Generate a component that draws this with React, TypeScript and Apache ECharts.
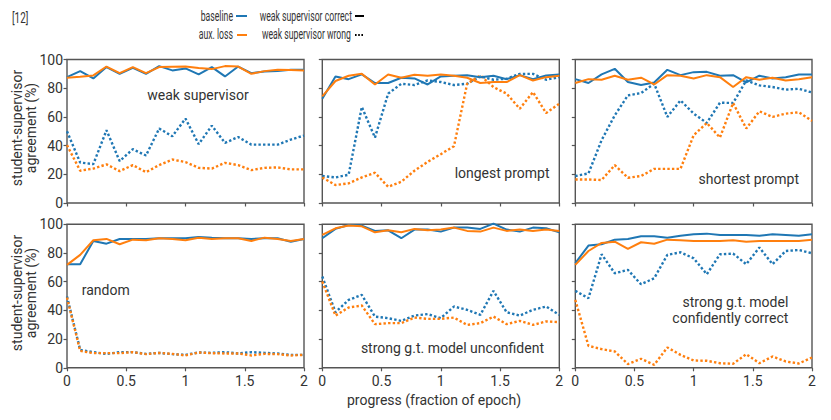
import React, { useEffect, useRef } from "react";
import * as echarts from "echarts";

const X_STEPS = [0, 1 / 9, 2 / 9, 3 / 9, 4 / 9, 5 / 9, 6 / 9, 7 / 9, 8 / 9, 1, 10 / 9, 11 / 9, 12 / 9, 13 / 9, 14 / 9, 15 / 9, 16 / 9, 17 / 9, 2];
const X_TICKS = [0, 0.5, 1, 1.5, 2];
const Y_TICKS = [0, 20, 40, 60, 80, 100];

const PANEL_LABELS = [
  "weak supervisor",
  "longest prompt",
  "shortest prompt",
  "random",
  "strong g.t. model unconfident",
  "strong g.t. model\nconfidently correct",
];

// panel 1: weak supervisor
const WEAK_BASE_CORRECT = [87.7, 91.9, 86.8, 94.7, 90, 94.2, 90, 95.4, 92.4, 93.8, 89.6, 94.7, 88.2, 95.1, 90.5, 91.7, 91.9, 92.8, 92.8];
const WEAK_AUX_CORRECT = [87.3, 88, 88.9, 95.1, 90.5, 94.7, 90.5, 94.7, 94.9, 95.1, 94, 93.3, 95.4, 95.1, 90, 91.9, 92.8, 92.6, 92.4];
const WEAK_BASE_WRONG = [50, 28.2, 27.1, 50.7, 29.2, 37.5, 33.1, 51.9, 46.5, 58.8, 41, 53.9, 41.9, 46, 40.7, 40.7, 40.7, 44.2, 47];
const WEAK_AUX_WRONG = [40.3, 22.5, 24, 26.9, 22.2, 26.4, 21.5, 26.4, 30.3, 28.5, 24.5, 24, 28, 26.4, 22.9, 24.5, 24.8, 23.4, 23.4];

// panel 2: longest prompt
const LONG_BASE_CORRECT = [72.7, 88.2, 86.3, 89.6, 83.6, 83.6, 87.3, 86.8, 82.6, 88.2, 88.7, 89.1, 87.7, 88.7, 86.3, 89.1, 86.3, 88.9, 89.6];
const LONG_AUX_CORRECT = [74.3, 85, 88.7, 90, 82.6, 89.6, 87.3, 89.4, 88.7, 89.6, 88.7, 87.3, 83.6, 84.3, 84.3, 89.1, 85.4, 87.7, 88.7];
const LONG_BASE_WRONG = [18.8, 17.8, 19.7, 66.9, 45.6, 76.2, 83.1, 82.2, 85.4, 84.3, 82.2, 83.1, 88.2, 85.9, 86.6, 90, 90, 85.9, 87.7];
const LONG_AUX_WRONG = [17.8, 12.5, 13.7, 17.8, 21.1, 11.3, 14.8, 22.5, 28.7, 34, 39.6, 83.1, 88.9, 80.8, 76.2, 65.7, 77.3, 62.7, 69.2];

// panel 3: shortest prompt
const SHORT_BASE_CORRECT = [86.3, 83.6, 89.6, 93.5, 84.3, 82.2, 84, 92.8, 89.1, 91.2, 91.4, 88.7, 89.1, 84, 88.7, 86.8, 87.7, 89.6, 89.6];
const SHORT_AUX_CORRECT = [83.6, 86.3, 85.9, 88.7, 85.9, 87.3, 82.6, 89.1, 88.7, 86.8, 89.1, 87.7, 80.8, 87.7, 85.9, 87.3, 85.4, 86.3, 87.7];
const SHORT_BASE_WRONG = [18.8, 20.6, 43.8, 61.1, 75, 76.6, 83.1, 60, 71.5, 62.3, 55.8, 69.9, 69.7, 85.4, 82, 80.8, 79, 79.6, 77];
const SHORT_AUX_WRONG = [16.4, 16.4, 16, 26.4, 17.6, 18.8, 23.8, 23.8, 23.8, 47.2, 55.8, 45.6, 69.7, 51.9, 63.9, 60, 62.3, 63.2, 57.2];

// panel 4: random
const RAND_BASE_CORRECT = [72.2, 72.2, 88.4, 86.5, 89.8, 89.8, 89.8, 90.3, 90.3, 90.3, 91.2, 90.7, 90.3, 90.3, 89.8, 90.3, 90.3, 87.9, 89.8];
const RAND_AUX_CORRECT = [71.7, 78.7, 88.9, 89.8, 86.1, 89.3, 88.9, 90.3, 89.8, 88.9, 90.7, 89.8, 90.3, 90.3, 88.4, 90.7, 89.8, 88.4, 89.8];
const RAND_BASE_WRONG = [49.7, 12.5, 10.9, 9.7, 10.9, 10.9, 9.7, 10.4, 9.5, 9, 10.7, 10.4, 10.9, 10, 10.9, 10.4, 10, 9, 9];
const RAND_AUX_WRONG = [49, 11.8, 10.2, 10.2, 10.2, 10.9, 9.5, 10.4, 9.7, 8.6, 10.7, 10.2, 10, 10, 8.6, 9.7, 9.5, 8.6, 9];

// panel 5: strong g.t. model unconfident
const UNCONF_BASE_CORRECT = [90.3, 96.8, 99.5, 99.1, 95.4, 95.8, 90.3, 96.3, 96.3, 94.9, 97.7, 97.7, 96.8, 100.5, 96.3, 94.9, 97.7, 97.2, 94.4];
const UNCONF_AUX_CORRECT = [92.6, 97.2, 99.1, 98.6, 94.4, 95.8, 94.4, 96.8, 95.8, 96.3, 97.7, 95.4, 94.9, 97.7, 95.4, 96.3, 95.4, 96.3, 95.4];
const UNCONF_BASE_WRONG = [63.6, 38.7, 47.3, 50.8, 35.7, 34.6, 32.7, 36.4, 37.4, 34.6, 42.7, 40.4, 36.9, 53.6, 38.7, 36.4, 40.4, 42.7, 36.9];
const UNCONF_AUX_WRONG = [60.1, 36.4, 42, 43.4, 30.4, 31.1, 31.1, 35, 34.1, 34.1, 35, 29.9, 31.1, 35.7, 30.4, 32.7, 29.9, 32.3, 31.8];

// panel 6: strong g.t. model confidently correct
const CONF_BASE_CORRECT = [72.9, 85.2, 86.1, 89.3, 89.8, 91.6, 91.6, 90.7, 92.1, 93, 93.5, 92.6, 92.6, 92.6, 92.1, 93, 92.6, 92.1, 93];
const CONF_AUX_CORRECT = [71.7, 81.4, 87, 87.9, 82.8, 87.5, 86.5, 89.3, 88.9, 88.4, 88.4, 88.4, 88.9, 87.9, 88.4, 88.4, 88.4, 88.4, 89.3];
const CONF_BASE_WRONG = [53.6, 48.5, 79.1, 65.9, 68.2, 58.2, 62.4, 78.7, 80.5, 76.3, 65.2, 79.1, 79.6, 72.2, 83.8, 72.2, 81.4, 82.1, 79.8];
const CONF_AUX_WRONG = [47.3, 15.3, 13, 11.4, 2.6, 6.3, 2.1, 14.2, 9, 5.1, 4.9, 3.2, 2.8, 9.5, 3.2, 7.9, 4.4, 3, 7.2];

const PANELS = [
  [WEAK_BASE_CORRECT, WEAK_AUX_CORRECT, WEAK_BASE_WRONG, WEAK_AUX_WRONG],
  [LONG_BASE_CORRECT, LONG_AUX_CORRECT, LONG_BASE_WRONG, LONG_AUX_WRONG],
  [SHORT_BASE_CORRECT, SHORT_AUX_CORRECT, SHORT_BASE_WRONG, SHORT_AUX_WRONG],
  [RAND_BASE_CORRECT, RAND_AUX_CORRECT, RAND_BASE_WRONG, RAND_AUX_WRONG],
  [UNCONF_BASE_CORRECT, UNCONF_AUX_CORRECT, UNCONF_BASE_WRONG, UNCONF_AUX_WRONG],
  [CONF_BASE_CORRECT, CONF_AUX_CORRECT, CONF_BASE_WRONG, CONF_AUX_WRONG],
];

const LEGEND_ITEMS = ["baseline", "aux. loss", "weak supervisor correct", "weak supervisor wrong"];

const BLUE = "#1f77b4";
const ORANGE = "#ff7f0e";
const TEXT = "#333333";
const FRAME = "#555555";
const FONT = "Roboto, 'Noto Sans', sans-serif";

const COL_LEFT = [67, 322.3, 575.3];
const COL_WIDTH = [237, 237, 236.7];
const ROW_TOP = [59.5, 224.3];
const ROW_HEIGHT = 143.5;

// label placement per panel: [x, y, align]
const LABEL_POS: [number, number, string][] = [
  [198, 95, "center"],
  [549.5, 172.7, "right"],
  [799, 179.3, "right"],
  [81.7, 290, "left"],
  [544, 348.3, "right"],
  [788.3, 309.5, "right"],
];

export default function App() {
  const ref = useRef<HTMLDivElement>(null);
  useEffect(() => {
    if (!ref.current) return;
    const chart = echarts.init(ref.current, null, { renderer: "svg" });
    const grids: any[] = [];
    const xAxes: any[] = [];
    const yAxes: any[] = [];
    const series: any[] = [];
    for (let i = 0; i < 6; i++) {
      const row = Math.floor(i / 3);
      const col = i % 3;
      grids.push({
        left: COL_LEFT[col],
        top: ROW_TOP[row],
        width: COL_WIDTH[col],
        height: ROW_HEIGHT,
        show: true,
        borderColor: FRAME,
        borderWidth: 1.4,
        backgroundColor: "transparent",
      });
      xAxes.push({
        type: "value",
        gridIndex: i,
        min: X_TICKS[0],
        max: X_TICKS[X_TICKS.length - 1],
        interval: 0.5,
        axisLine: { show: false },
        axisTick: { show: true, inside: false, length: 3.5, lineStyle: { color: FRAME, width: 1.2 } },
        splitLine: { show: false },
        axisLabel: {
          show: row === 1,
          fontSize: 14,
          color: TEXT,
          fontFamily: FONT,
          margin: 6,
          showMinLabel: true,
          showMaxLabel: true,
          formatter: (v: number) => String(v),
        },
      });
      yAxes.push({
        type: "value",
        gridIndex: i,
        min: Y_TICKS[0],
        max: Y_TICKS[Y_TICKS.length - 1],
        interval: 20,
        axisLine: { show: false },
        axisTick: { show: true, inside: false, length: 3.5, lineStyle: { color: FRAME, width: 1.2 } },
        splitLine: { show: false },
        axisLabel: {
          show: col === 0,
          fontSize: 14,
          color: TEXT,
          fontFamily: FONT,
          margin: 4,
          showMinLabel: true,
          showMaxLabel: true,
        },
      });
      const [bc, ac, bw, aw] = PANELS[i];
      const mk = (vals: number[], color: string, dotted: boolean, name: string) => ({
        type: "line",
        name,
        xAxisIndex: i,
        yAxisIndex: i,
        data: vals.map((v, k) => [X_STEPS[k], v]),
        showSymbol: false,
        symbol: "none",
        clip: false,
        lineStyle: dotted
          ? { color, width: 2.4, type: [2.4, 2.2], cap: "butt" }
          : { color, width: 2 },
        emphasis: { disabled: true },
      });
      series.push(mk(bw, BLUE, true, "baseline wrong"));
      series.push(mk(aw, ORANGE, true, "aux wrong"));
      series.push(mk(bc, BLUE, false, "baseline correct"));
      series.push(mk(ac, ORANGE, false, "aux correct"));
    }

    const graphic: any[] = [];
    PANEL_LABELS.forEach((txt, i) => {
      const [x, y, align] = LABEL_POS[i];
      graphic.push({
        type: "text",
        x,
        y,
        style: {
          text: txt,
          textAlign: align,
          textVerticalAlign: "middle",
          font: `14px ${FONT}`,
          fill: TEXT,
          lineHeight: 16,
        },
      });
    });
    // y-axis titles
    [128, 293].forEach((cy) => {
      graphic.push({
        type: "text",
        x: 24,
        y: cy,
        rotation: Math.PI / 2,
        style: {
          text: "student-supervisor\nagreement (%)",
          textAlign: "center",
          textVerticalAlign: "middle",
          font: `14px ${FONT}`,
          fill: TEXT,
          lineHeight: 14,
        },
      });
    });
    // x-axis title
    graphic.push({
      type: "text",
      x: 434,
      y: 400,
      style: {
        text: "progress (fraction of epoch)",
        textAlign: "center",
        textVerticalAlign: "middle",
        font: `14px ${FONT}`,
        fill: TEXT,
      },
    });
    // reference tag (condensed face)
    graphic.push({
      type: "text",
      x: 12,
      y: 18,
      scaleX: 0.66,
      style: { text: "[12]", textAlign: "left", textVerticalAlign: "middle", font: `15px ${FONT}`, fill: TEXT },
    });
    // legend (condensed face)
    const legendText = (text: string, x: number, y: number) => ({
      type: "text",
      x,
      y,
      scaleX: 0.6,
      style: { text, textAlign: "right", textVerticalAlign: "middle", font: `14.5px ${FONT}`, fill: TEXT },
    });
    const legendLine = (x1: number, x2: number, y: number, color: string, dotted: boolean) => ({
      type: "line",
      shape: { x1, y1: y, x2, y2: y },
      style: { stroke: color, lineWidth: 2, lineDash: dotted ? [1.6, 1.6] : null },
    });
    graphic.push(legendText(LEGEND_ITEMS[0], 233, 16));
    graphic.push(legendLine(236, 247, 16, BLUE, false));
    graphic.push(legendText(LEGEND_ITEMS[1], 233, 34.5));
    graphic.push(legendLine(237, 247, 35, ORANGE, false));
    graphic.push(legendText(LEGEND_ITEMS[2], 352, 16));
    graphic.push(legendLine(355, 364, 16, "#000000", false));
    graphic.push(legendText(LEGEND_ITEMS[3], 351, 34.5));
    graphic.push(legendLine(355, 364, 35, "#000000", true));

    chart.setOption({
      animation: false,
      backgroundColor: "#ffffff",
      textStyle: { fontFamily: FONT },
      grid: grids,
      xAxis: xAxes,
      yAxis: yAxes,
      series,
      graphic,
    });
    return () => chart.dispose();
  }, []);
  return (
    <div
      ref={ref}
      style={{ position: "fixed", left: 0, top: 0, width: 831, height: 420 }}
    />
  );
}
